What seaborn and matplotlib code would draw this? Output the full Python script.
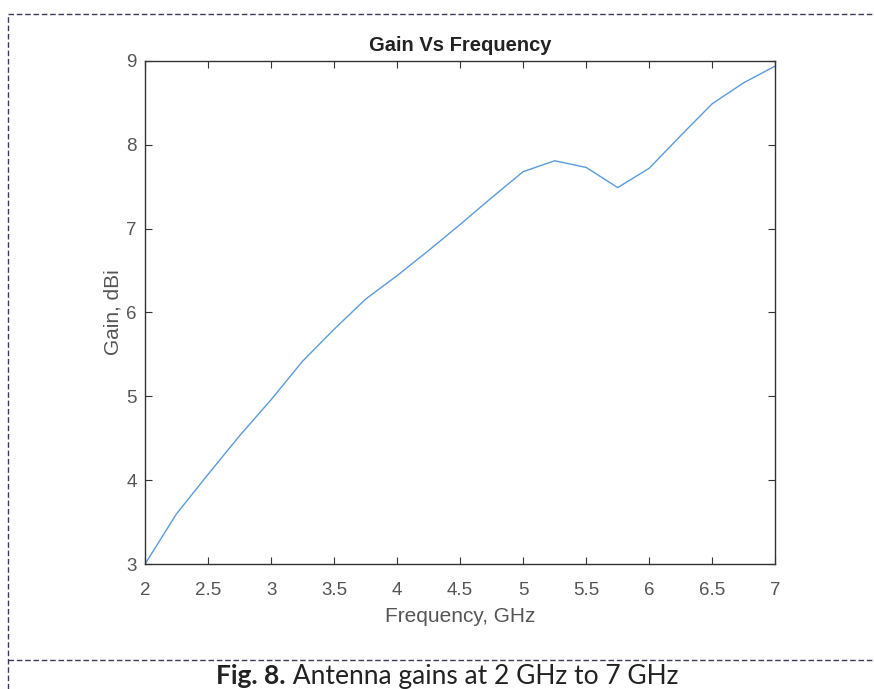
import numpy as np
import pandas as pd
import seaborn as sns
import matplotlib.pyplot as plt
from matplotlib.lines import Line2D

# vertices every 0.25 GHz
freq_ghz = [2.0, 2.25, 2.5, 2.75, 3.0, 3.25, 3.5, 3.75, 4.0, 4.25, 4.5,
            4.75, 5.0, 5.25, 5.5, 5.75, 6.0, 6.25, 6.5, 6.75, 7.0]
gain_dbi = [3.00, 3.60, 4.07, 4.53, 4.96, 5.42, 5.80, 6.16, 6.44, 6.74, 7.05,
            7.37, 7.68, 7.81, 7.73, 7.49, 7.72, 8.11, 8.49, 8.74, 8.94]
x_ticks = [2, 2.5, 3, 3.5, 4, 4.5, 5, 5.5, 6, 6.5, 7]
x_labels = ['2', '2.5', '3', '3.5', '4', '4.5', '5', '5.5', '6', '6.5', '7']
y_ticks = [3, 4, 5, 6, 7, 8, 9]

df = pd.DataFrame({'freq': freq_ghz, 'gain': gain_dbi})

sns.set_style('ticks')
plt.rcParams['font.family'] = ['Liberation Sans', 'DejaVu Sans']

fig = plt.figure(figsize=(8.74, 6.89), dpi=100)
ax = fig.add_axes([0.166, 0.1814, 0.721, 0.7301])

sns.lineplot(data=df, x='freq', y='gain', ax=ax, color='#5a9bdc', linewidth=1.0)

ax.set_xlim(2, 7)
ax.set_ylim(3, 9)
ax.set_xticks(x_ticks)
ax.set_xticklabels(x_labels)
ax.set_yticks(y_ticks)
ax.tick_params(direction='in', length=5, width=0.8, color='#333333',
               labelsize=13.5, labelcolor='#555555', top=True, right=True)
ax.tick_params(axis='x', pad=13)
ax.tick_params(axis='y', pad=6)
for s in ax.spines.values():
    s.set_visible(True)
    s.set_color('#333333')
    s.set_linewidth(1.0)

ax.set_title('Gain Vs Frequency', fontsize=14.5, fontweight='bold', color='#222222', pad=7)
ax.set_xlabel('Frequency, GHz', fontsize=15, color='#555555', labelpad=6)
ax.set_ylabel('Gain, dBi', fontsize=15, color='#555555', labelpad=3)

# dashed frame of the figure box
dash = dict(transform=fig.transFigure, color='#3a3a5a', linestyle=(0, (4, 2)), linewidth=1.0)
fig.add_artist(Line2D([8/874, 1], [1 - 14/689] * 2, **dash))
fig.add_artist(Line2D([8/874] * 2, [0, 1 - 14/689], **dash))
fig.add_artist(Line2D([8/874, 1], [1 - 660/689] * 2, **dash))

# caption: bold "Fig. 8." then normal text, laid out left to right
cap_y = 1 - 684/689
cap_kw = dict(va='baseline', fontsize=19, color='#222222', family=['Lato', 'DejaVu Sans'])
t1 = fig.text(0, cap_y, 'Fig. 8.', fontweight='bold', **cap_kw)
t2 = fig.text(0, cap_y, ' Antenna gains at 2 GHz to 7 GHz', **cap_kw)
r = fig.canvas.get_renderer()
w1 = t1.get_window_extent(r).width
w2 = t2.get_window_extent(r).width
x0 = 447 - (w1 + w2) / 2
t1.set_x(x0 / 874)
t2.set_x((x0 + w1) / 874)

fig.savefig('out.png', dpi=100)
